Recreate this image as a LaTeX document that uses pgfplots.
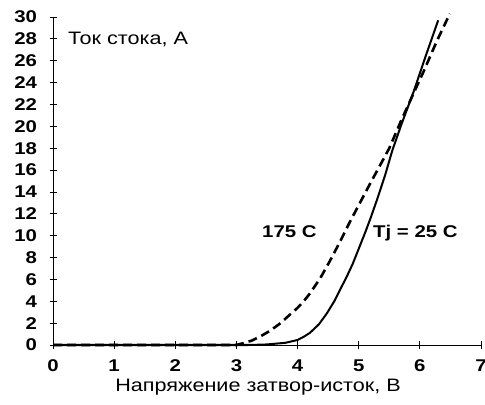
\documentclass[border=0pt]{standalone}
\usepackage{fontspec}
\setmainfont{Liberation Sans}[FakeStretch=1.2]
\usepackage{pgfplots}
\pgfplotsset{compat=1.18}
\begin{document}
\begin{tikzpicture}[font=\fontsize{18bp}{21bp}\selectfont]
\useasboundingbox (0,0) rectangle (485bp,405bp);
\begin{axis}[
  at={(53bp,60bp)}, anchor=south west,
  scale only axis, width=428bp, height=328bp,
  xmin=0, xmax=7, ymin=0, ymax=30,
  enlargelimits=false, clip=false,
  axis x line=bottom, axis y line=left,
  axis line style={-, line width=0.8bp, black},
  tick align=center, major tick length=7bp,
  tick style={black, line width=0.8bp},
  xtick={0,1,2,3,4,5,6,7},
  xticklabels={0,1,2,3,4,5,6,7},
  ytick={0,2,4,6,8,10,12,14,16,18,20,22,24,26,28,30},
  yticklabels={{0\hspace{10bp}},2,4,6,8,10,12,14,16,18,20,22,24,26,28,30},
  xticklabel style={font=\fontsize{17bp}{20bp}\selectfont\bfseries, yshift=-8bp},
  yticklabel style={font=\fontsize{17bp}{20bp}\selectfont\bfseries, xshift=-9bp},
]
\addplot[black, line width=2bp] coordinates {
(0,0) (3.2,0) (3.5,0.05) (3.8,0.2) (4.0,0.46) (4.1,0.75) (4.2,1.1) (4.35,1.9) (4.48,2.9)
(4.6,4.0) (4.69,5.0) (4.8,6.2) (4.9,7.4) (5.0,8.8) (5.1,10.2) (5.2,11.7)
(5.3,13.3) (5.43,15.5) (5.55,17.8) (5.7,20.2) (5.9,23.2) (6.1,26.5) (6.3,29.7)
};
\addplot[black, line width=2.6bp, dash pattern=on 9bp off 5bp] coordinates {
(0,0) (3.0,0) (3.1,0.15) (3.25,0.4) (3.39,0.78) (3.55,1.3) (3.71,1.95)
(3.85,2.65) (4.0,3.4) (4.1,4.0) (4.2,4.7) (4.37,6.1) (4.53,7.7) (4.69,9.4)
(4.85,11.2) (5.02,13.0) (5.2,14.9) (5.375,16.7) (5.5,18.0) (5.7,20.6)
(5.92,23.3) (6.06,25.0) (6.27,27.7) (6.49,30.3)
};
\end{axis}
\node[anchor=base west, inner sep=0] at (68bp,360bp) {Ток стока, А};
\node[anchor=base west, inner sep=0, font=\fontsize{17bp}{20bp}\selectfont\bfseries] at (262bp,167bp) {175 C};
\node[anchor=base west, inner sep=0, font=\fontsize{17bp}{20bp}\selectfont\bfseries] at (373bp,167bp) {Tj = 25 C};
\node[anchor=center, inner sep=0] at (258bp,18bp) {Напряжение затвор-исток, В};
\end{tikzpicture}
\end{document}
